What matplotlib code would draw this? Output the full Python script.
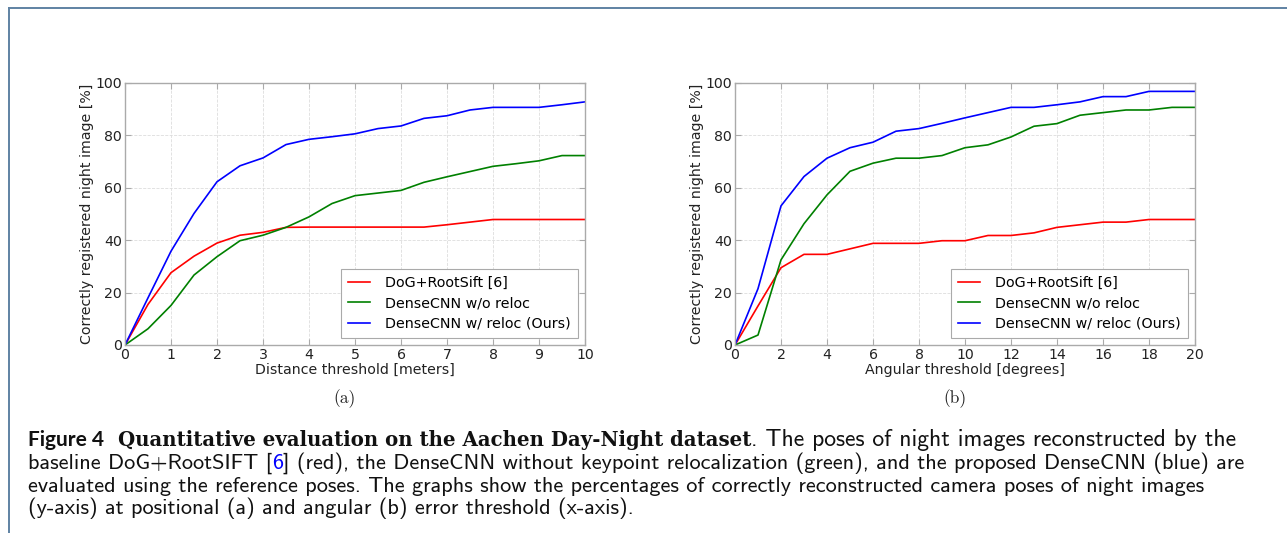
import matplotlib
matplotlib.use("Agg")
import matplotlib.pyplot as plt
import numpy as np

# ---------------- data ----------------
dist_x = [0, 0.5, 1, 1.5, 2, 2.5, 3, 3.5, 4, 4.5, 5, 5.5, 6, 6.5, 7, 7.5, 8, 8.5, 9, 9.5, 10]
dist_dog = [0, 15.5, 27.6, 33.9, 38.9, 41.9, 43, 44.9, 45, 45, 45, 45, 45, 45, 45.9, 46.9, 47.9, 47.9, 47.9, 47.9, 47.9]
dist_noreloc = [0, 6.2, 15.1, 26.7, 33.7, 39.8, 41.9, 44.9, 48.9, 54, 57, 58, 59, 62.1, 64.2, 66.2, 68.2, 69.2, 70.3, 72.3, 72.3]
dist_reloc = [0, 18, 35.8, 50.2, 62.3, 68.4, 71.4, 76.5, 78.5, 79.5, 80.6, 82.6, 83.6, 86.5, 87.5, 89.7, 90.7, 90.7, 90.7, 91.7, 92.8]

ang_x = list(range(0, 21))
ang_dog = [0, 14.9, 29.5, 34.6, 34.6, 36.7, 38.8, 38.8, 38.8, 39.8, 39.8, 41.8, 41.8, 42.8, 44.9, 45.9, 46.9, 46.9, 47.9, 47.9, 47.9]
ang_noreloc = [0, 3.8, 32.5, 46.3, 57.3, 66.3, 69.4, 71.3, 71.3, 72.3, 75.3, 76.4, 79.4, 83.5, 84.5, 87.7, 88.7, 89.7, 89.7, 90.7, 90.7]
ang_reloc = [0, 21.5, 53.1, 64.3, 71.3, 75.3, 77.4, 81.6, 82.6, 84.6, 86.7, 88.7, 90.7, 90.7, 91.7, 92.8, 94.8, 94.8, 96.8, 96.8, 96.8]

labels = ["DoG+RootSift [6]", "DenseCNN w/o reloc", "DenseCNN w/ reloc (Ours)"]
colors = ["#ff0000", "#008000", "#0000ff"]
ylabel = "Correctly registered night image [%]"
xlabels = ["Distance threshold [meters]", "Angular threshold [degrees]"]
sub_captions = ["(a)", "(b)"]

W, H = 1287, 533
fig = plt.figure(figsize=(W / 100, H / 100), dpi=100)
fig.patch.set_facecolor("white")

def px_axes(x0, x1, ytop, ybot):
    return [x0 / W, 1 - ybot / H, (x1 - x0) / W, (ybot - ytop) / H]

axes_specs = [
    (px_axes(125, 585, 83, 345), dist_x, [dist_dog, dist_noreloc, dist_reloc], 10, np.arange(0, 11, 1), 345),
    (px_axes(735, 1195, 83, 345), ang_x, [ang_dog, ang_noreloc, ang_reloc], 20, np.arange(0, 21, 2), 955),
]

for i, (rect, xs, series, xmax, xt, capx) in enumerate(axes_specs):
    ax = fig.add_axes(rect)
    for ys, lab, c in zip(series, labels, colors):
        ax.plot(xs, ys, color=c, lw=1.2, label=lab)
    ax.set_xlim(0, xmax)
    ax.set_ylim(0, 100)
    ax.set_xticks(xt)
    ax.set_yticks(np.arange(0, 101, 20))
    ax.grid(True, color="#dddddd", ls="--", lw=0.6)
    ax.set_axisbelow(True)
    for s in ax.spines.values():
        s.set_color("#aaaaaa")
        s.set_linewidth(1.0)
    ax.tick_params(direction="in", length=4, color="#aaaaaa", labelsize=10.2,
                   top=True, right=True, pad=2, labelcolor="#222222")
    ax.set_ylabel(ylabel, fontsize=10.2, labelpad=1, color="#222222")
    ax.set_xlabel(xlabels[i], fontsize=10.2, labelpad=1, color="#222222")
    leg = ax.legend(loc="lower right", fontsize=10.3, fancybox=False, framealpha=1,
                    edgecolor="#aaaaaa", handlelength=1.5, handletextpad=1.05,
                    borderaxespad=0.5, labelspacing=0.45, borderpad=0.5)
    leg.get_frame().set_linewidth(0.8)
    fig.text(capx / W, 1 - 399 / H, sub_captions[i], family="cmr10", fontsize=12.5,
             ha="center", va="center", color="#222222")

# frame
fig.add_artist(plt.Line2D([9 / W, 1.0], [1 - 7.5 / H, 1 - 7.5 / H], color="#5f82a3", lw=1.4))
fig.add_artist(plt.Line2D([9 / W, 9 / W], [0, 1 - 7.5 / H], color="#5f82a3", lw=1.4))

# caption text, built piece by piece
renderer = fig.canvas.get_renderer()

def fit_size(txt, family, weight, target, base=12.0):
    t = fig.text(0, 0, txt, fontsize=base, family=family, weight=weight)
    w = t.get_window_extent(renderer).width
    t.remove()
    return base * target / w

line2 = "baseline DoG+RootSIFT [6] (red), the DenseCNN without keypoint relocalization (green), and the proposed DenseCNN (blue) are"
tail1 = ". The poses of night images reconstructed by the"
fs_reg = fit_size(line2, "cmss10", "normal", 1222)
fs_tail = fit_size(tail1, "cmss10", "normal", 488)
fs_bser = fit_size("Quantitative evaluation on the Aachen Day-Night dataset", "DejaVu Serif", "bold", 632)

REG = dict(family="cmss10", fontsize=fs_reg)
cap_lines = [
    [("Figure 4", dict(family="Lato", weight="bold", fontsize=15.0), 28),
     ("Quantitative evaluation on the Aachen Day-Night dataset", dict(family="DejaVu Serif", weight="bold", fontsize=fs_bser), 118),
     (tail1, dict(family="cmss10", fontsize=fs_tail), None)],
    [("baseline DoG+RootSIFT [", REG, 28),
     ("6", dict(REG, color="#0000ff"), None),
     ("] (red), the DenseCNN without keypoint relocalization (green), and the proposed DenseCNN (blue) are", REG, None)],
    [("evaluated using the reference poses. The graphs show the percentages of correctly reconstructed camera poses of night images", REG, 28)],
    [("(y-axis) at positional (a) and angular (b) error threshold (x-axis).", REG, 28)],
]
line_y = [446, 469, 492, 514]
for parts, yy in zip(cap_lines, line_y):
    x = 28
    for txt, kw, xstart in parts:
        if xstart is not None:
            x = xstart
        kw = dict(kw)
        col = kw.pop("color", "#111111")
        t = fig.text(x / W, 1 - yy / H, txt, ha="left", va="baseline", color=col, **kw)
        bb = t.get_window_extent(renderer)
        x += bb.width

fig.savefig("out.png", dpi=100, facecolor="white")
